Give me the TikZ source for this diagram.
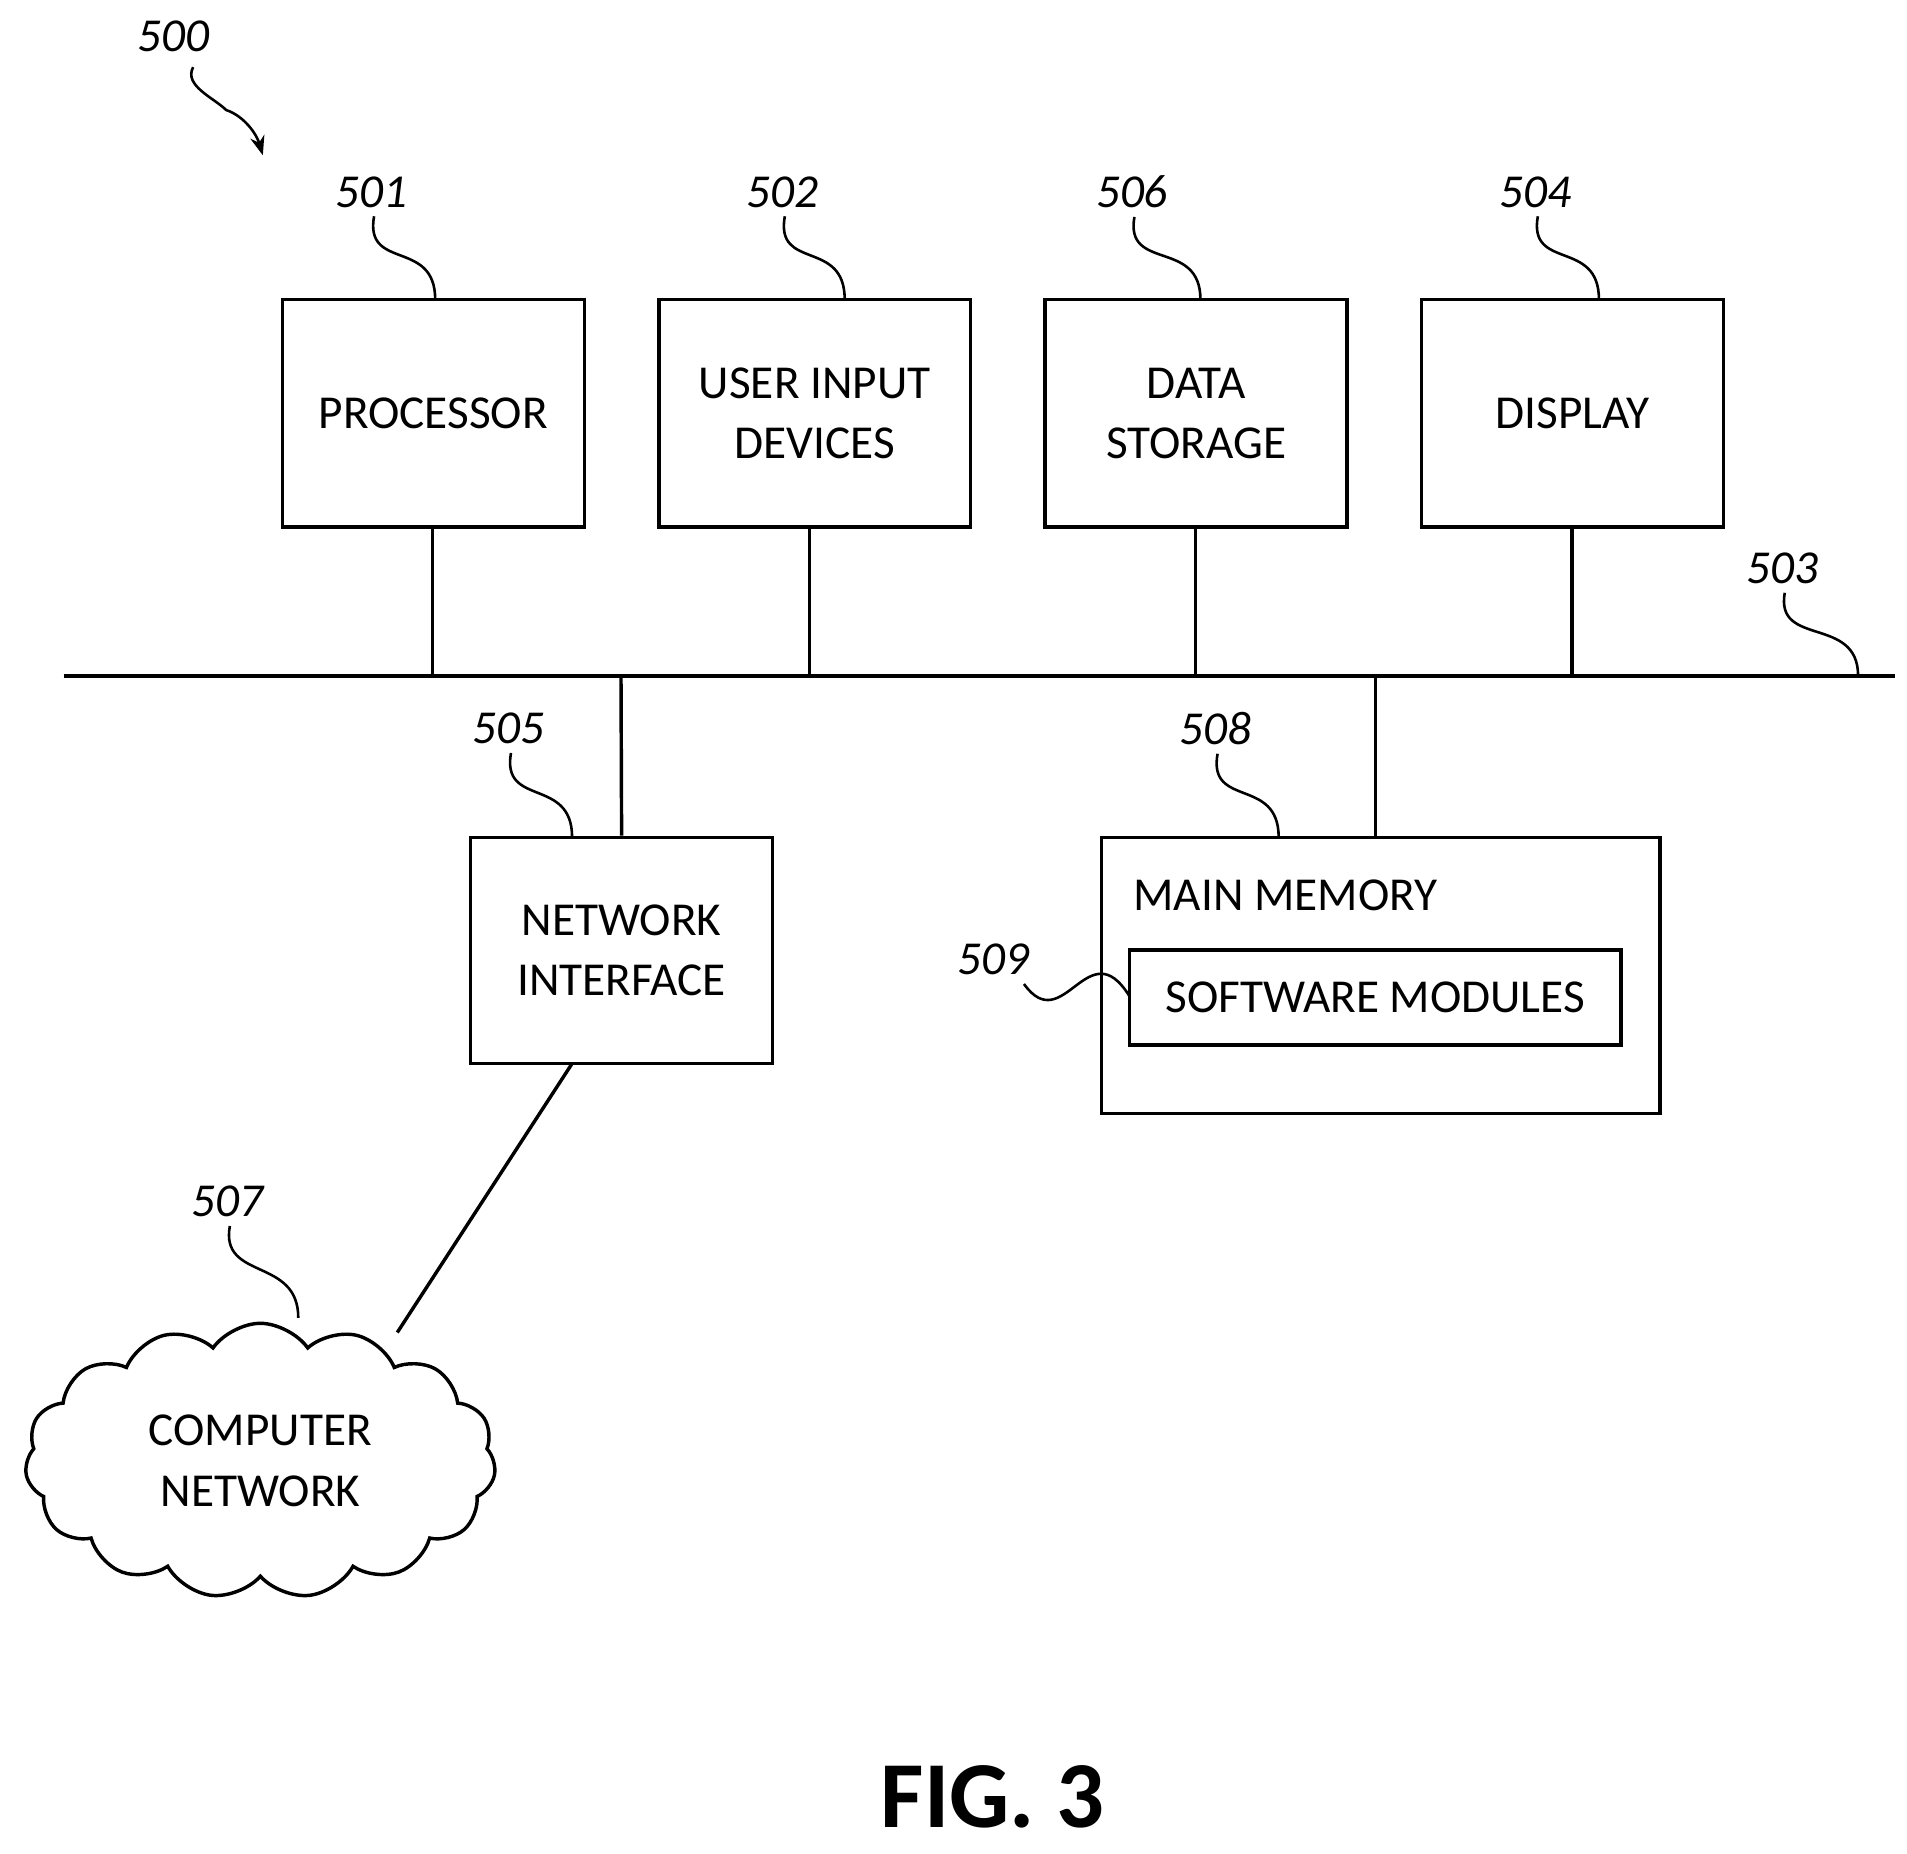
\documentclass[tikz,border=0pt]{standalone}
\usepackage{fontspec}
\setmainfont{Carlito}
\usetikzlibrary{shapes.symbols,arrows.meta,calc}
\begin{document}
\begin{tikzpicture}[x=0.02cm,y=-0.02cm,line width=1.6pt,
  box/.style={draw,rectangle,inner sep=0pt,align=center,font=\fontsize{22}{28}\selectfont},
  lab/.style={font=\fontsize{22}{26}\selectfont\itshape},
  lead/.style={line width=1.2pt}]
\useasboundingbox (0,0) rectangle (1560,1516);
\node[box,minimum width=247*0.02cm,minimum height=186*0.02cm] (p) at (354.5,338) {PROCESSOR};
\node[box,minimum width=255*0.02cm,minimum height=186*0.02cm] (u) at (666.5,338) {USER INPUT\\DEVICES};
\node[box,minimum width=247*0.02cm,minimum height=186*0.02cm] (d) at (978.5,338) {DATA\\STORAGE};
\node[box,minimum width=247*0.02cm,minimum height=186*0.02cm] (s) at (1286.5,338) {DISPLAY};
\coordinate (b0) at (52,553); \coordinate (b1) at (1550,553);
\draw (b0) -- (b1);
\foreach \n/\x in {p/354,u/662,d/978,s/1286} \draw (\x,431) -- (\x,553);
\node[box,minimum width=247*0.02cm,minimum height=185*0.02cm] (ni) at (508.5,777.5) {NETWORK\\INTERFACE};
\node[draw,rectangle,inner sep=0pt,minimum width=457*0.02cm,minimum height=226*0.02cm] (mm) at (1129.5,798) {};
\node[font=\fontsize{22}{28}\selectfont,anchor=west] (mmt) at (920,732) {MAIN MEMORY};
\node[box,minimum width=402*0.02cm,minimum height=78*0.02cm] (sw) at (1125,816) {SOFTWARE MODULES};
\draw (508,553) -- (ni.north);
\draw (1125,553) -- (1125,685);
\node[cloud,draw,cloud puffs=15,cloud puff arc=110,aspect=1.7,minimum width=385*0.02cm,minimum height=225*0.02cm,align=center,font=\fontsize{22}{28}\selectfont] (cn) at (213,1195) {COMPUTER\\NETWORK};
\coordinate (nic) at (468,870); \coordinate (cnc) at (325,1090);
\draw (nic) -- (cnc);
\node[lab] (l500) at (142,30) {500};
\node[lab] (l501) at (304,157) {501};
\node[lab] (l502) at (640,157) {502};
\node[lab] (l506) at (926,157) {506};
\node[lab] (l504) at (1256,157) {504};
\node[lab] (l503) at (1458,465) {503};
\node[lab] (l505) at (416,596) {505};
\node[lab] (l508) at (994,596) {508};
\node[lab] (l509) at (813,785) {509};
\node[lab] (l507) at (186,983) {507};
\foreach \l/\tx/\ty in {501/356/245,502/691/245,506/982/245,504/1308/245,505/468/685,508/1046/685,503/1520/553,507/244/1078}
  \draw[lead] ($(l\l.south)+(2,0)$) .. controls ++(-8,45) and (\tx,\ty-50) .. (\tx,\ty);
\draw[lead] ($(l509.south east)+(-12,0)$) .. controls (870,850) and (890,760) .. (924,815);
\draw[lead,-{Stealth[length=9pt]}] ($(l500.south)+(16,5)$) .. controls (150,70) and (175,80) .. (185,90) .. controls (200,95) and (210,110) .. (215,127);
\node[font=\fontsize{44}{48}\selectfont\bfseries] (fig) at (812,1470) {FIG. 3};
\end{tikzpicture}
\end{document}
